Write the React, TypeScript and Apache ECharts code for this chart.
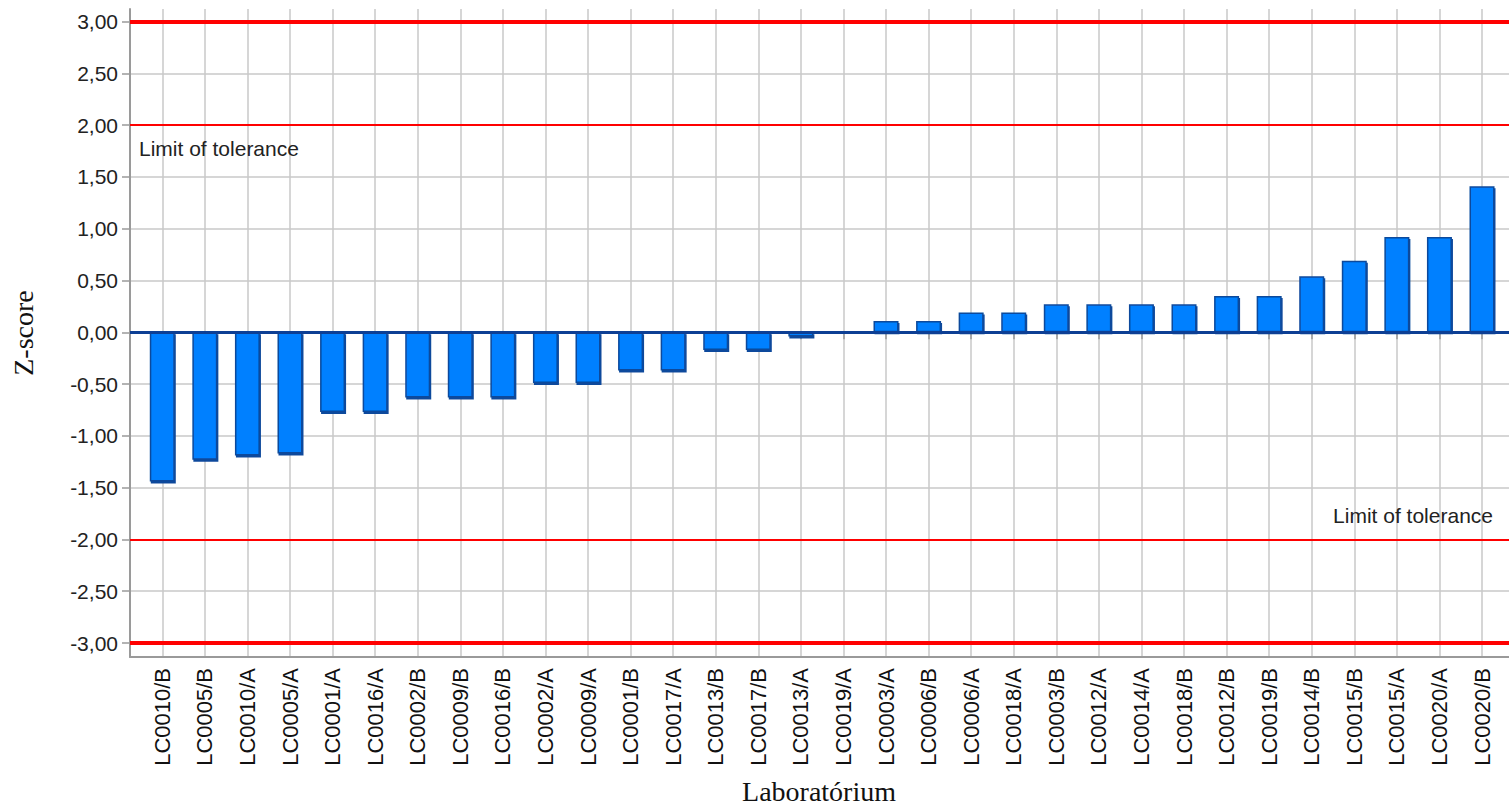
import React, { useEffect, useRef } from "react";
import * as echarts from "echarts";

const categories = [
  "LC0010/B", "LC0005/B", "LC0010/A", "LC0005/A", "LC0001/A", "LC0016/A", "LC0002/B", "LC0009/B",
  "LC0016/B", "LC0002/A", "LC0009/A", "LC0001/B", "LC0017/A", "LC0013/B", "LC0017/B", "LC0013/A",
  "LC0019/A", "LC0003/A", "LC0006/B", "LC0006/A", "LC0018/A", "LC0003/B", "LC0012/A", "LC0014/A",
  "LC0018/B", "LC0012/B", "LC0019/B", "LC0014/B", "LC0015/B", "LC0015/A", "LC0020/A", "LC0020/B",
];

const zScores = [
  -1.44, -1.23, -1.19, -1.17, -0.77, -0.77, -0.63, -0.63,
  -0.63, -0.49, -0.49, -0.37, -0.37, -0.17, -0.17, -0.04,
  0, 0.11, 0.11, 0.19, 0.19, 0.27, 0.27, 0.27,
  0.27, 0.35, 0.35, 0.54, 0.69, 0.92, 0.92, 1.41,
];

const actionLimits = [3, -3];
const warningLimits = [2, -2];
const limitLabel = "Limit of tolerance";
const xTitle = "Laboratórium";
const yTitle = "Z-score";

const fmt = (v: number) => v.toFixed(2).replace(".", ",");

export default function App() {
  const ref = useRef<HTMLDivElement>(null);
  useEffect(() => {
    if (!ref.current) return;
    const chart = echarts.init(ref.current, undefined, { renderer: "svg" });
    const gray = "#9a9a9a";
    const gridGray = "#c8c8c8";
    const sans = "Liberation Sans";
    const serif = "Liberation Serif";
    const option: any = {
      animation: false,
      backgroundColor: "#ffffff",
      grid: [
        { left: 130, right: 0, top: 9, bottom: 149 },
        { left: 130, right: 0, top: 21.5, bottom: 163 },
        { left: 141, right: 5.7, top: 9, bottom: 149 },
      ],
      xAxis: [
        {
          gridIndex: 0, type: "value", min: 0, max: 1,
          axisLine: { show: true, onZero: false, lineStyle: { color: gray, width: 2 } },
          axisTick: { show: false }, axisLabel: { show: false }, splitLine: { show: false },
        },
        { gridIndex: 1, type: "value", min: 0, max: 1, show: false },
        {
          gridIndex: 2, type: "category", data: categories, boundaryGap: true,
          axisLine: { show: false },
          axisTick: { show: true, alignWithLabel: true, length: 7, lineStyle: { color: gray, width: 1.5 } },
          axisLabel: {
            rotate: 90, interval: 0, margin: 11, fontSize: 22, fontFamily: sans, color: "#111",
          },
          splitLine: { show: true, alignWithLabel: true, interval: 0, lineStyle: { color: gridGray, width: 1.5 } },
        },
      ],
      yAxis: [
        {
          gridIndex: 0, type: "value", min: 0, max: 1,
          axisLine: { show: true, onZero: false, lineStyle: { color: gray, width: 2 } },
          axisTick: { show: false }, axisLabel: { show: false }, splitLine: { show: false },
        },
        {
          gridIndex: 1, type: "value", min: -3, max: 3, interval: 0.5,
          axisLine: { show: false },
          axisTick: { show: true, length: 8, lineStyle: { color: gray, width: 1.5 } },
          axisLabel: { formatter: (v: number) => fmt(v), fontSize: 21, fontFamily: sans, color: "#222", margin: 12 },
          splitLine: { show: true, lineStyle: { color: gridGray, width: 1.5 } },
        },
        { gridIndex: 2, type: "value", min: -3.135, max: 3.121, show: false },
      ],
      graphic: [
        {
          type: "text", x: 23, y: 333, rotation: Math.PI / 2,
          style: { text: yTitle, font: `28px "${serif}"`, fill: "#111", align: "center", verticalAlign: "middle" },
        },
        {
          type: "text", x: 819, y: 791,
          style: { text: xTitle, font: `28px "${serif}"`, fill: "#111", align: "center", verticalAlign: "middle" },
        },
      ],
      series: [
        {
          type: "bar",
          xAxisIndex: 2, yAxisIndex: 2,
          data: zScores,
          barWidth: 25,
          z: 3,
          itemStyle: {
            color: "#0080ff",
            borderColor: "#0a4a9c",
            borderWidth: 1.5,
            shadowColor: "#0a4a9c",
            shadowOffsetX: 1,
            shadowOffsetY: 2,
            shadowBlur: 0,
          },
        },
        {
          type: "line",
          xAxisIndex: 1, yAxisIndex: 1,
          data: [],
          z: 6,
          markLine: {
            silent: true,
            symbol: "none",
            animation: false,
            label: { show: false },
            data: [
              ...actionLimits.map((v) => ({ yAxis: v, lineStyle: { color: "#ff0000", width: 4, type: "solid" } })),
              {
                yAxis: warningLimits[0],
                lineStyle: { color: "#ff0000", width: 2, type: "solid" },
                label: {
                  show: true, position: "insideStartBottom", formatter: limitLabel, distance: [9, 13],
                  fontSize: 21, fontFamily: sans, color: "#222",
                },
              },
              {
                yAxis: warningLimits[1],
                lineStyle: { color: "#ff0000", width: 2, type: "solid" },
                label: {
                  show: true, position: "insideEndTop", formatter: limitLabel, distance: [16, 13],
                  fontSize: 21, fontFamily: sans, color: "#222",
                },
              },
              { yAxis: 0, lineStyle: { color: "#0d3f94", width: 3, type: "solid" } },
            ],
          },
        },
      ],
    };
    chart.setOption(option);
    return () => chart.dispose();
  }, []);
  return (
    <div
      ref={ref}
      style={{ position: "absolute", left: 0, top: 0, width: 1509, height: 806 }}
    />
  );
}
